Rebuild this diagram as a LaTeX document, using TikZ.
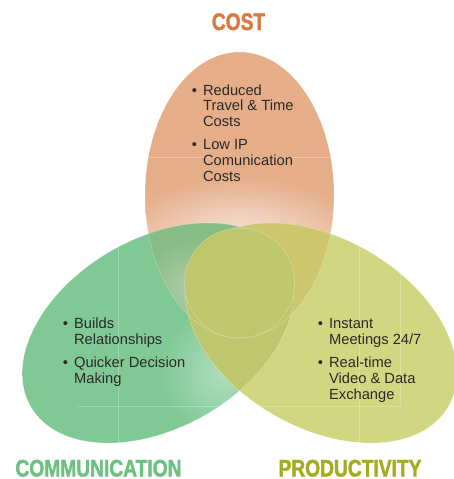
\documentclass[tikz,border=0pt]{standalone}
\usepackage{fontspec}
\usetikzlibrary{fadings}
\newfontfamily\bodyfont{Liberation Sans}
\newfontfamily\titlefont{Liberation Sans}[UprightFont=* Bold, BoldFont=* Bold, FakeStretch=0.8, FakeBold=1.6]
\definecolor{orangeC}{HTML}{E5AE88}
\definecolor{orangeM}{HTML}{EABC9E}
\definecolor{orangeL}{HTML}{F7E0D5}
\definecolor{greenC}{HTML}{80C894}
\definecolor{greenL}{HTML}{B0DFBE}
\definecolor{yellowC}{HTML}{D1D680}
\definecolor{ogC}{HTML}{86BC86}
\definecolor{ogL}{HTML}{B2CDAA}
\definecolor{oyC}{HTML}{CEC56F}
\definecolor{gyC}{HTML}{BDC66C}
\definecolor{centerC}{HTML}{BFC76C}
\definecolor{textC}{HTML}{2A2A2A}
\definecolor{costT}{HTML}{D9783F}
\definecolor{commT}{HTML}{6CC080}
\definecolor{prodT}{HTML}{A3AC1E}
\tikzfading[name=radfade, inner color=transparent!0, outer color=transparent!100]
\newcommand{\bul}{\makebox[11.3pt][l]{\textbullet}}
\begin{document}
\begin{tikzpicture}[x=1pt,y=-1pt,
  item/.style={anchor=base west, inner sep=0pt, text=textC, font=\bodyfont\fontsize{14.7}{15.9}\selectfont},
  title/.style={anchor=base, inner sep=0pt, text depth=0pt, font=\titlefont\fontsize{24}{24}\selectfont},
  outl/.style={draw=white, draw opacity=0.3, line width=0.5pt},
  guide/.style={draw=white, draw opacity=0.25, line width=0.6pt}]
\useasboundingbox (0,0) rectangle (453,479);
\def\Opath{(239.5,195) ellipse [x radius=94.5pt, y radius=143pt]}
\def\Gpath{[rotate around={30:(158,333)}] (158,333) ellipse [x radius=147pt, y radius=94.5pt]}
\def\Ypath{[rotate around={-30:(321,333)}] (321,333) ellipse [x radius=147pt, y radius=94.5pt]}
% orange
\begin{scope}
  \clip \Opath;
  \fill[orangeC] (0,0) rectangle (453,190);
  \shade[top color=orangeC, bottom color=orangeM] (0,189.5) rectangle (453,235);
  \fill[orangeM] (0,234.5) rectangle (453,479);
  \fill[orangeL, path fading=radfade] (239.5,238) ellipse [x radius=110pt, y radius=62pt];
\end{scope}
% green
\begin{scope}
  \clip \Gpath;
  \fill[greenC] (0,0) rectangle (453,479);
  \shade[inner color=greenL, outer color=greenC] (226,372) circle [radius=68pt];
\end{scope}
% yellow
\fill[yellowC] \Ypath;
% orange & green
\begin{scope}
  \clip \Opath;
  \clip \Gpath;
  \fill[ogC] (0,0) rectangle (453,479);
  \shade[inner color=ogL, outer color=ogC] (190,288) circle [radius=48pt];
\end{scope}
% orange & yellow
\begin{scope}
  \clip \Opath;
  \fill[oyC] \Ypath;
\end{scope}
% green & yellow
\begin{scope}
  \clip \Gpath;
  \fill[gyC] \Ypath;
\end{scope}
% faint outlines of the ellipses
\draw[outl] \Opath;
\draw[outl] \Gpath;
\draw[outl] \Ypath;
% centre
\fill[centerC] (239.5,283) circle [radius=55pt];
\draw[outl] (239.5,283) circle [radius=55pt];
% faint guide lines
\begin{scope}
  \clip \Opath;
  \draw[guide] (140,157) -- (340,157);
\end{scope}
\begin{scope}
  \clip \Gpath;
  \draw[guide] (118,200) -- (118,460);
\end{scope}
\begin{scope}
  \clip \Ypath;
  \draw[guide] (359.5,200) -- (359.5,460);
\end{scope}
\draw[guide] (78,406) -- (400.5,406);
\draw[guide] (400.5,274) -- (400.5,406);
% texts
\node[item] (c1) at (191.6,95) {\begin{tabular}[t]{@{}l@{}l@{}}\bul & Reduced\\ & Travel \& Time\\ & Costs\end{tabular}};
\node[item] (c2) at (191.6,149.3) {\begin{tabular}[t]{@{}l@{}l@{}}\bul & Low IP\\ & Comunication\\ & Costs\end{tabular}};
\node[item] (m1) at (62.6,328.3) {\begin{tabular}[t]{@{}l@{}l@{}}\bul & Builds\\ & Relationships\end{tabular}};
\node[item] (m2) at (62.6,367.5) {\begin{tabular}[t]{@{}l@{}l@{}}\bul & Quicker Decision\\ & Making\end{tabular}};
\node[item] (p1) at (317.6,328.3) {\begin{tabular}[t]{@{}l@{}l@{}}\bul & Instant\\ & Meetings 24/7\end{tabular}};
\node[item] (p2) at (317.6,367.7) {\begin{tabular}[t]{@{}l@{}l@{}}\bul & Real-time\\ & Video \& Data\\ & Exchange\end{tabular}};
\node[title, text=costT] (tc) at (238.5,30) {COST};
\node[title, text=commT] (tm) at (98.5,476.5) {COMMUNICATION};
\node[title, text=prodT] (tp) at (350,476.5) {PRODUCTIVITY};
\end{tikzpicture}
\end{document}
